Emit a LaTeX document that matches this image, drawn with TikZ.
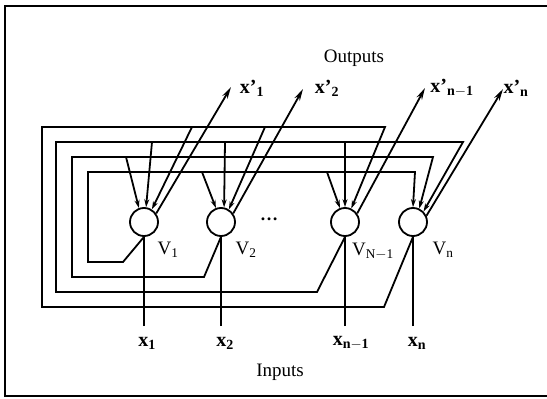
\documentclass[tikz,border=0pt]{standalone}
\usepackage{fontspec}
\setmainfont{Liberation Serif}
\usetikzlibrary{arrows.meta}
\begin{document}
\begin{tikzpicture}[x=1pt,y=-1pt,declare function={ya=127;yb=142;yc=157;yd=172;},>={Stealth[length=8pt,width=5pt]},line width=1.8pt,font=\fontsize{19}{22}\selectfont]
	\tikzset{noron/.style={circle,draw,minimum size=28pt,inner sep=0pt},
		nhan/.style={inner sep=1pt,font=\fontsize{19}{22}\selectfont},
		bien/.style={inner sep=1pt,font=\fontsize{20}{22}\selectfont\bfseries},
		ra/.style={-{Stealth[length=12pt,width=6pt]}}}
	\useasboundingbox (0,0) rectangle (547,399);
	
	% Khung
	\draw[line width=2pt] (547,6) -- (5,6) -- (5,396) -- (547,396);
	
	% Các nơron
	\path (144,222) node[noron] (V1) {}
	(221,222) node[noron] (V2) {}
	(345,222) node[noron] (VN) {}
	(413,222) node[noron] (Vn) {};
	
	% Nhãn
	\path (354,58) node (out) {Outputs}
	(280,372) node (in) {Inputs}
	(269,219) node[inner sep=0pt,font=\fontsize{18}{20}\selectfont\bfseries] (cham) {\dots}
	(168,250) node[nhan] (nV1) {V\textsubscript{1}}
	(246,250) node[nhan] (nV2) {V\textsubscript{2}}
	(373,251) node[nhan] (nVN) {V\textsubscript{N$-$1}}
	(443,250) node[nhan] (nVn) {V\textsubscript{n}}
	(252,88) node[bien] (o1) {x'\textsubscript{1}}
	(327,88) node[bien] (o2) {x'\textsubscript{2}}
	(452,88) node[bien] (oN) {x'\textsubscript{n$-$1}}
	(516,88) node[bien] (on) {x'\textsubscript{n}}
	(147,343) node[bien] (x1) {x\textsubscript{1}}
	(225,343) node[bien] (x2) {x\textsubscript{2}}
	(351,343) node[bien] (xN) {x\textsubscript{n$-$1}}
	(417,343) node[bien] (xn) {x\textsubscript{n}};
	
	% Điểm đầu vào và đầu ra
	\coordinate (i1) at (144,326);
	\coordinate (i2) at (221,326);
	\coordinate (iN) at (345,326);
	\coordinate (in) at (413,326);
	\coordinate (r1) at (231,87);
	\coordinate (r2) at (303,89);
	\coordinate (rN) at (425,88);
	\coordinate (rn) at (503,89);
	
	% Đầu vào x
	\draw (i1) -- (V1.south);
	\draw (i2) -- (V2.south);
	\draw (iN) -- (VN.south);
	\draw (in) -- (Vn.south);
	
	% Đầu ra x'
	\draw[ra] (V1.35) -- (r1);
	\draw[ra] (V2.35) -- (r2);
	\draw[ra] (VN.35) -- (rN);
	\draw[ra] (Vn.25) -- (rn);
	
	% Vòng phản hồi của V1
	\draw[->] (V1.south) -- (123,262) -- (88,262) -- (88,yd) -- (415,yd) -- (Vn.90);
	\draw[->] (202,yd) -- (V2.110);
	\draw[->] (327,yd) -- (VN.110);
	
	% Vòng phản hồi của V2
	\draw[->] (V2.south) -- (204,277) -- (72,277) -- (72,yc) -- (433,yc) -- (Vn.65);
	\draw[->] (126,yc) -- (V1.110);
	
	% Vòng phản hồi của V(N-1)
	\draw[->] (VN.south) -- (317,292) -- (56,292) -- (56,yb) -- (463,yb) -- (Vn.45);
	\draw[->] (152,yb) -- (V1.82);
	\draw[->] (225,yb) -- (V2.78);
	\draw[->] (345,yb) -- (VN.90);
	
	% Vòng phản hồi của Vn
	\draw[->] (Vn.south) -- (384,307) -- (42,307) -- (42,ya) -- (385,ya) -- (VN.65);
	\draw[->] (192,ya) -- (V1.58);
	\draw[->] (265,ya) -- (V2.58);
\end{tikzpicture}
\end{document}
